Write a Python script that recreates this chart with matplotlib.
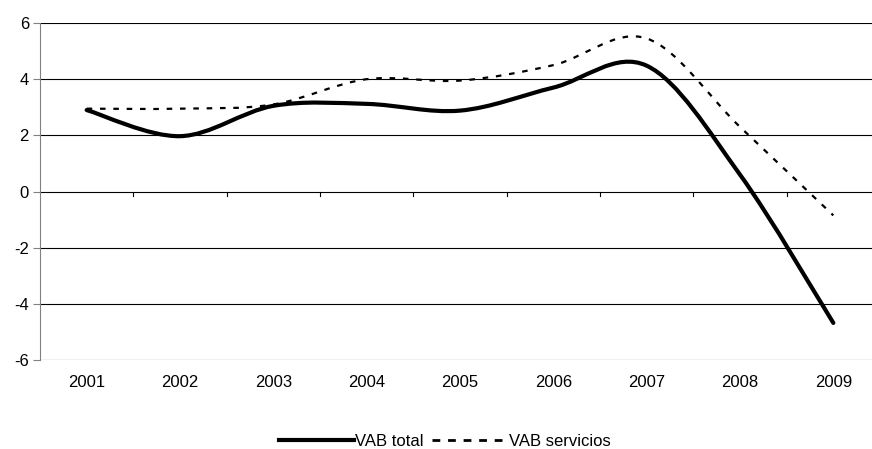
import numpy as np
import matplotlib
matplotlib.use('Agg')
import matplotlib.pyplot as plt
from matplotlib.path import Path
from matplotlib.patches import PathPatch
from matplotlib.lines import Line2D

plt.rcParams['font.family'] = ['Liberation Sans', 'DejaVu Sans']
plt.rcParams['font.size'] = 12
plt.rcParams['axes.unicode_minus'] = False

years = ['2001', '2002', '2003', '2004', '2005', '2006', '2007', '2008', '2009']
vab_total = [2.9, 1.97, 3.05, 3.12, 2.88, 3.7, 4.48, 0.6, -4.68]
vab_servicios = [2.95, 2.95, 3.1, 4.0, 3.95, 4.5, 5.45, 2.3, -0.85]


def smooth_path(xs, ys):
    # excel-like smoothed line: cubic bezier with catmull-rom control points
    xs = np.asarray(xs, float)
    ys = np.asarray(ys, float)
    n = len(xs)
    verts = [(xs[0], ys[0])]
    codes = [Path.MOVETO]
    for i in range(n - 1):
        i0 = max(i - 1, 0)
        i3 = min(i + 2, n - 1)
        c1 = (xs[i] + (xs[i + 1] - xs[i0]) / 6, ys[i] + (ys[i + 1] - ys[i0]) / 6)
        c2 = (xs[i + 1] - (xs[i3] - xs[i]) / 6, ys[i + 1] - (ys[i3] - ys[i]) / 6)
        verts += [c1, c2, (xs[i + 1], ys[i + 1])]
        codes += [Path.CURVE4] * 3
    return Path(verts, codes)


fig = plt.figure(figsize=(8.72, 4.49), dpi=100)
ax = fig.add_axes([40 / 872, (449 - 360) / 449, 840 / 872, 337 / 449])

x = np.arange(len(years))
ax.add_patch(PathPatch(smooth_path(x, vab_servicios), fill=False, color='black',
                       lw=1.6, linestyle=(0, (2.5, 3.5)), capstyle='butt'))
ax.add_patch(PathPatch(smooth_path(x, vab_total), fill=False, color='black',
                       lw=3.0, capstyle='round', joinstyle='round'))

ax.set_xlim(-0.5, len(years) - 0.5)
ax.set_ylim(-6, 6)
ax.set_yticks(range(-6, 7, 2))
ax.yaxis.grid(True, color='black', lw=0.8)
ax.set_axisbelow(True)
for s in ['top', 'right', 'bottom']:
    ax.spines[s].set_visible(False)
ax.spines['left'].set_color('#808080')
ax.tick_params(axis='y', length=5, color='#808080', pad=3)

# category labels at the bottom, tick marks on the zero line
ax.set_xticks(x)
ax.set_xticklabels(years)
ax.tick_params(axis='x', length=0, pad=11)
for b in np.arange(0.5, len(years) - 0.5, 1.0):
    ax.plot([b, b], [0, -0.17], color='black', lw=0.8, clip_on=False)

handles = [Line2D([], [], color='black', lw=3.0),
           Line2D([], [], color='black', lw=2.0, linestyle=(0, (2.8, 2.8)))]
fig.legend(handles, ['VAB total', 'VAB servicios'], loc='center',
           bbox_to_anchor=(0.51, 1 - 441 / 449), ncol=2, frameon=False,
           handlelength=4.5, handletextpad=0.1, columnspacing=0.5)

fig.savefig('out.png', dpi=100, facecolor='white')
